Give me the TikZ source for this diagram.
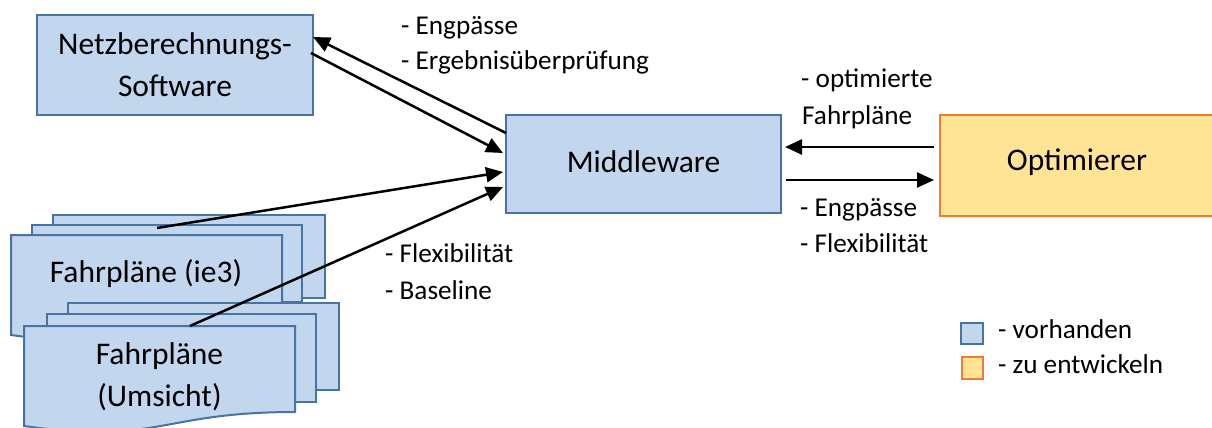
\documentclass[tikz,border=0pt]{standalone}
\usepackage{fontspec}
\setmainfont{Carlito}
\usetikzlibrary{arrows.meta}
\definecolor{bfill}{RGB}{194,214,238}
\definecolor{bdraw}{RGB}{72,116,164}
\definecolor{ofill}{RGB}{255,228,150}
\definecolor{odraw}{RGB}{237,125,49}
\tikzset{
  boxtext/.style={font=\fontsize{31.5}{42}\selectfont, align=center, inner sep=0pt},
  bluebox/.style={draw=bdraw, fill=bfill, line width=2pt},
  orangebox/.style={draw=odraw, fill=ofill, line width=2.5pt},
  lbl/.style={font=\fontsize{27.2}{36}\selectfont, anchor=base west, inner sep=0pt},
  conn/.style={line width=2.5pt, -{Triangle[length=17pt,width=15pt]}},
}
\begin{document}
\begin{tikzpicture}[x=1pt,y=-1pt]
\useasboundingbox (0,0) rectangle (1212,428);
% main boxes
\draw[bluebox] (37,15) rectangle (313,115);
\node[boxtext] (netz) at (175,65) {Netzberechnungs-\\Software};
\draw[bluebox] (506,115) rectangle (781,213);
\node[boxtext] (mw) at (643.5,162) {Middleware};
\draw[orangebox] (940,115) rectangle (1216,216);
\node[boxtext] (opt) at (1077,162) {Optimierer};
% document stack 1
\draw[bluebox] (53,215) rectangle (325,298);
\draw[bluebox] (32,225) rectangle (302,302);
\draw[bluebox] (11,235) -- (282,235) -- (282,322)
  .. controls (146,322) and (146,354) .. (11,335) -- cycle;
\node[boxtext] (ie3) at (146,274) {Fahrpläne (ie3)};
% document stack 2
\draw[bluebox] (68,303) rectangle (339,390);
\draw[bluebox] (47,314) rectangle (316,402);
\draw[bluebox] (24,326) -- (295,326) -- (295,412)
  .. controls (160,412) and (160,445) .. (24,426) -- cycle;
\node[boxtext] (ums) at (159.5,377) {Fahrpläne\\(Umsicht)};
% connector endpoints
\coordinate (mwA) at (506,133);
\coordinate (netzA) at (313,37);
\coordinate (netzB) at (311,53);
\coordinate (mwB) at (503,153);
\coordinate (ie3A) at (157,228);
\coordinate (mwC) at (503,172);
\coordinate (umsA) at (190,326);
\coordinate (mwD) at (503,187);
\coordinate (optA) at (934,147);
\coordinate (mwE) at (785,147);
\coordinate (mwF) at (786,180);
\coordinate (optB) at (934,180);
\draw[conn] (mwA) -- (netzA);
\draw[conn] (netzB) -- (mwB);
\draw[conn] (ie3A) -- (mwC);
\draw[conn] (umsA) -- (mwD);
\draw[conn] (optA) -- (mwE);
\draw[conn] (mwF) -- (optB);
% labels
\node[lbl] (l1) at (401,35) {- Engpässe};
\node[lbl] (l2) at (401,70) {- Ergebnisüberprüfung};
\node[lbl] (l3) at (801,87) {- optimierte};
\node[lbl] (l4) at (802,124) {Fahrpläne};
\node[lbl] (l5) at (800,216) {- Engpässe};
\node[lbl] (l6) at (800,252) {- Flexibilität};
\node[lbl] (l7) at (385,262) {- Flexibilität};
\node[lbl] (l8) at (385,299) {- Baseline};
% legend
\draw[draw=bdraw, fill=bfill, line width=2.5pt] (961,323) rectangle (983,344);
\draw[orangebox] (962,357) rectangle (983,379);
\node[lbl] (lg1) at (998,338) {- vorhanden};
\node[lbl] (lg2) at (998,373) {- zu entwickeln};
\end{tikzpicture}
\end{document}
